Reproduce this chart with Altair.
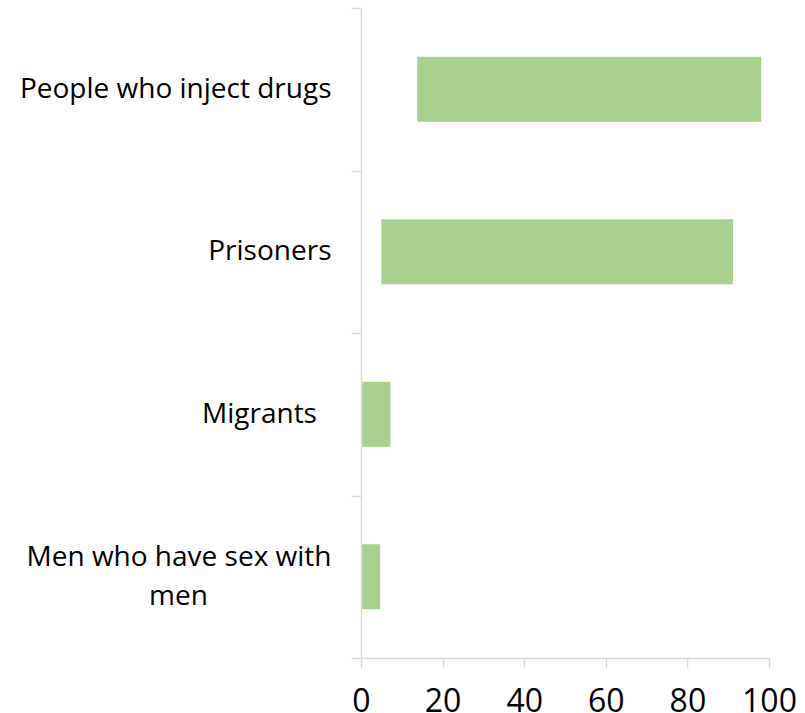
import altair as alt
import pandas as pd

NB = "\u00a0"
ZW = "\u200b"
categories = ["People who inject drugs", "Prisoners", "Migrants", "Men who have sex with men"]
labels = [["People who inject drugs"], ["Prisoners"], ["Migrants" + NB * 2 + ZW],
          ["Men who have sex with", "men" + NB * 17 + ZW]]
low = [13.8, 5.0, 0.3, 0.3]
high = [98.1, 91.2, 7.2, 4.7]
x_ticks = [0, 20, 40, 60, 80, 100]

df = pd.DataFrame({"cat": categories, "low": low, "high": high})

expr_parts = []
for c, l in zip(categories, labels):
    arr = "[" + ",".join("'" + s + "'" for s in l) + "]"
    expr_parts.append(f"datum.value == '{c}' ? {arr}")
label_expr = " : ".join(expr_parts) + " : datum.value"

multi = categories[3]
label_offset = {"condition": {"test": f"datum.value == '{multi}'", "value": -19.5}, "value": 0}

chart = alt.Chart(df).mark_bar(color="#a9d18e", height={"band": 0.4}).encode(
    y=alt.Y("cat:N", sort=categories,
            scale=alt.Scale(paddingInner=0, paddingOuter=0),
            axis=alt.Axis(title=None, labelExpr=label_expr, tickBand="extent",
                          labelFont="Open Sans", labelFontSize=28, labelColor="#000000",
                          labelPadding=20, labelLineHeight=39, labelLimit=400,
                          labelOffset=label_offset,
                          domainColor="#d9d9d9", domainWidth=1.5, tickColor="#d9d9d9",
                          tickWidth=1.5, tickSize=10)),
    x=alt.X("low:Q", scale=alt.Scale(domain=[0, 100], nice=False),
            axis=alt.Axis(title=None, values=x_ticks, grid=False, labelFlush=False,
                          labelFont="Open Sans", labelFontSize=32, labelColor="#000000",
                          labelPadding=18, domainColor="#d9d9d9", domainWidth=1.5,
                          tickColor="#d9d9d9", tickWidth=1.5, tickSize=10)),
    x2="high:Q",
).properties(
    width=408, height=650,
    autosize=alt.AutoSizeParams(type="none"),
    padding={"left": 361, "top": 8, "right": 36, "bottom": 55},
).configure_view(stroke=None)

chart.save("out.html", embed_options={"renderer": "svg", "actions": False})
